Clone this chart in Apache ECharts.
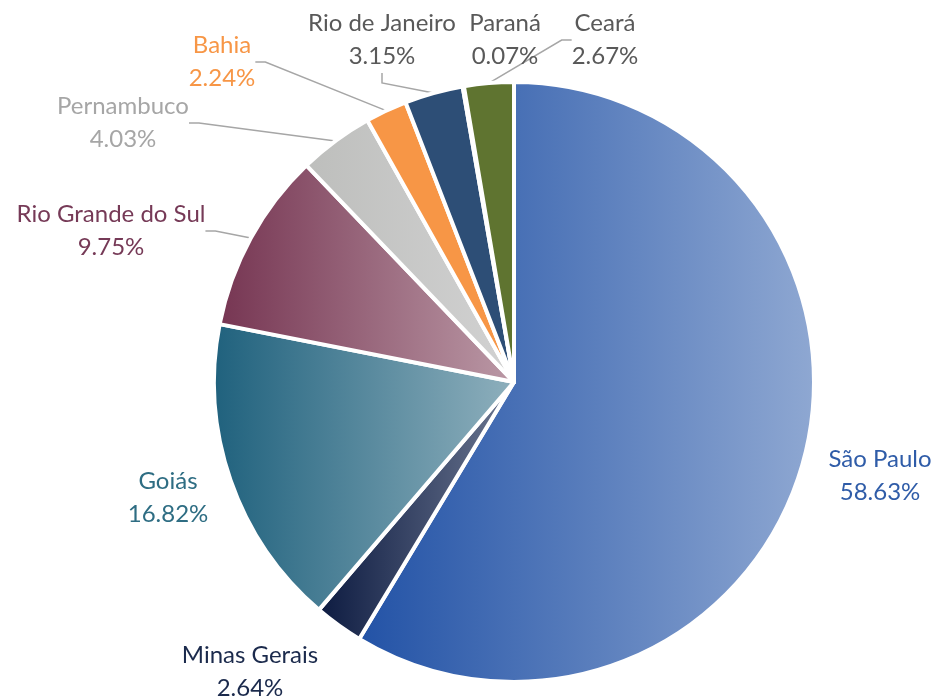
<!DOCTYPE html>
<html>
<head>
<meta charset="utf-8">
<script src="https://cdn.jsdelivr.net/npm/echarts@6/dist/echarts.min.js"></script>
<style>
  html, body { margin: 0; padding: 0; background: #ffffff; }
  #chart { width: 936px; height: 699px; }
</style>
</head>
<body>
<div id="chart"></div>
<script>
// Share of each state (percent)
const states = ['São Paulo', 'Minas Gerais', 'Goiás', 'Rio Grande do Sul', 'Pernambuco', 'Bahia', 'Rio de Janeiro', 'Paraná', 'Ceará'];
const shares = [58.63, 2.64, 16.82, 9.75, 4.03, 2.24, 3.15, 0.07, 2.67];

// Slice fills: [left colour, right colour] of a horizontal gradient
const sliceFills = [
  ['#2252a6', '#8fa8d2'],
  ['#0c1a40', '#6d7892'],
  ['#1f617d', '#8fb0bd'],
  ['#763552', '#bb99a6'],
  ['#bdbebc', '#d2d2d2'],
  ['#f79646', '#f79646'],
  ['#2d4e76', '#2d4e76'],
  ['#4a6a9a', '#4a6a9a'],
  ['#5f7430', '#5f7430']
];
const labelColors = ['#2f5ca8', '#1b2a4c', '#2e6d83', '#763a57', '#a6a6a6', '#f79646', '#595959', '#595959', '#595959'];
const showLeader = [false, false, false, true, true, true, true, false, true];

// Where each label block is centred
const labelSpots = [
  [880, 476], [250, 672], [168, 498], [111, 231], [123, 123],
  [222, 62], [382, 40], [505, 40], [605, 40]
];

const chart = echarts.init(document.getElementById('chart'), null, { renderer: 'canvas' });

const data = states.map((name, i) => ({
  name,
  value: shares[i],
  itemStyle: {
    color: {
      type: 'linear', x: 0, y: 0, x2: 1, y2: 0,
      colorStops: [
        { offset: 0, color: sliceFills[i][0] },
        { offset: 1, color: sliceFills[i][1] }
      ]
    }
  },
  label: { color: labelColors[i] },
  labelLine: { show: showLeader[i] }
}));

chart.setOption({
  backgroundColor: '#ffffff',
  animation: false,
  series: [{
    type: 'pie',
    center: [514, 382],
    radius: 300,
    startAngle: 90,
    clockwise: true,
    avoidLabelOverlap: false,
    itemStyle: { borderColor: '#ffffff', borderWidth: 4 },
    label: {
      show: true,
      position: 'outside',
      fontFamily: 'Lato',
      fontSize: 24,
      lineHeight: 33,
      align: 'center',
      formatter: p => p.name + '\n' + p.value.toFixed(2) + '%'
    },
    labelLine: {
      show: true,
      length: 10,
      length2: 10,
      smooth: false,
      lineStyle: { color: '#a6a6a6', width: 1.5 }
    },
    labelLayout: p => {
      const spot = labelSpots[p.dataIndex];
      return { x: spot[0], y: spot[1], align: 'center', verticalAlign: 'middle' };
    },
    emphasis: { disabled: true },
    data
  }]
});
</script>
</body>
</html>
